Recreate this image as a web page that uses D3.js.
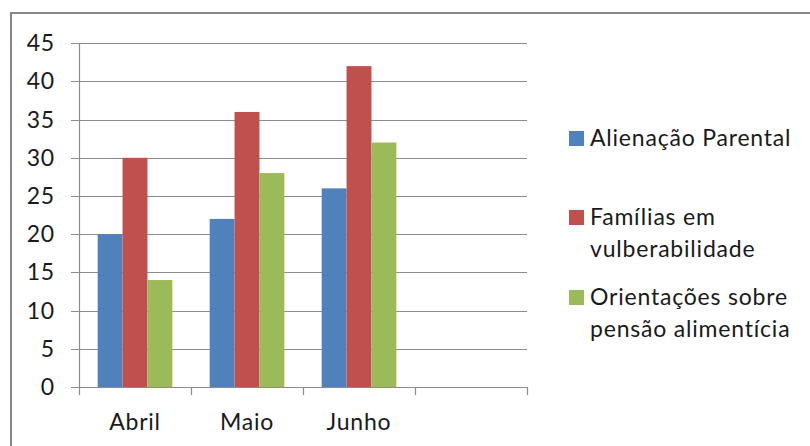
<!DOCTYPE html>
<html>
<head>
<meta charset="utf-8">
<script src="https://cdn.jsdelivr.net/npm/d3@7"></script>
<style>
  body { margin: 0; background: #fff; }
  text { font-family: Lato, "Open Sans", sans-serif; fill: #1a1a1a; letter-spacing: 0.8px; }
</style>
</head>
<body>
<div id="container"></div>
<script>
// data
let months = ["Abril", "Maio", "Junho", ""];
let seriesNames = ["Alienação Parental", "Famílias em vulberabilidade", "Orientações sobre pensão alimentícia"];
let legendLines = [["Alienação Parental"], ["Famílias em", "vulberabilidade"], ["Orientações sobre", "pensão alimentícia"]];
let alienacao = [20, 22, 26];
let familias = [30, 36, 42];
let orientacoes = [14, 28, 32];
let yTicks = [0, 5, 10, 15, 20, 25, 30, 35, 40, 45];
let colors = ["#4F81BD", "#C0504D", "#9BBB59"];

let w = 810;
let h = 446;
let plotLeft = 79, plotRight = 527, plotTop = 43.2, plotBottom = 387;

let viz = d3.select("#container")
  .append("svg")
    .attr("width", w)
    .attr("height", h);

// outer frame (cut off at right and bottom)
viz.append("rect")
  .attr("x", 11).attr("y", 13)
  .attr("width", 900).attr("height", 600)
  .attr("fill", "none")
  .attr("stroke", "#868686")
  .attr("stroke-width", 2);

let xScale = d3.scaleBand().domain(d3.range(months.length)).range([plotLeft, plotRight]);
let yScale = d3.scaleLinear().domain([0, 45]).range([plotBottom, plotTop]);
let inner = d3.scaleBand().domain(d3.range(3)).range([0, xScale.bandwidth()]).paddingOuter(0.75).paddingInner(0);

// gridlines
viz.append("g").selectAll("line").data(yTicks).enter().append("line")
  .attr("x1", plotLeft - 8).attr("x2", plotRight)
  .attr("y1", d => Math.round(yScale(d)) + 0.5)
  .attr("y2", d => Math.round(yScale(d)) + 0.5)
  .attr("stroke", "#8c8c8c")
  .attr("stroke-width", 1.2);

// y axis labels
viz.append("g").selectAll("text").data(yTicks).enter().append("text")
  .attr("x", 55)
  .attr("y", d => yScale(d) + 8)
  .attr("text-anchor", "end")
  .style("font-size", "23px")
  .text(d => d);

// bars
let seriesData = [alienacao, familias, orientacoes];
seriesData.forEach(function(values, s){
  viz.append("g").selectAll("rect").data(values).enter().append("rect")
    .attr("x", (d, i) => xScale(i) + inner(s))
    .attr("y", d => yScale(d))
    .attr("width", inner.bandwidth())
    .attr("height", d => yScale(0) - yScale(d))
    .attr("fill", colors[s]);
});

// y axis line
viz.append("line")
  .attr("x1", plotLeft + 0.5).attr("x2", plotLeft + 0.5)
  .attr("y1", plotTop).attr("y2", plotBottom + 8)
  .attr("stroke", "#8c8c8c").attr("stroke-width", 1.2);

// x axis line and ticks
viz.append("line")
  .attr("x1", plotLeft).attr("x2", plotRight)
  .attr("y1", plotBottom + 0.5).attr("y2", plotBottom + 0.5)
  .attr("stroke", "#8c8c8c").attr("stroke-width", 1.2);
let xTickPos = months.map((m, i) => xScale(i)).concat([plotRight]);
viz.append("g").selectAll("line").data(xTickPos.slice(1)).enter().append("line")
  .attr("x1", d => Math.round(d) + 0.5).attr("x2", d => Math.round(d) + 0.5)
  .attr("y1", plotBottom).attr("y2", plotBottom + 8)
  .attr("stroke", "#8c8c8c").attr("stroke-width", 1.2);

// category labels
viz.append("g").selectAll("text").data(months).enter().append("text")
  .attr("x", (d, i) => xScale(i) + xScale.bandwidth() / 2)
  .attr("y", 430)
  .attr("text-anchor", "middle")
  .style("font-size", "23px")
  .text(d => d);

// legend
let legendY = [131, 210, 290];
legendLines.forEach(function(lines, s){
  let g = viz.append("g").attr("transform", "translate(569," + legendY[s] + ")");
  g.append("rect")
    .attr("width", 15).attr("height", 15)
    .attr("fill", colors[s]);
  g.selectAll("text").data(lines).enter().append("text")
    .attr("x", 21)
    .attr("y", (d, i) => 15 + i * 31.5)
    .style("font-size", "23px")
    .text(d => d);
});
</script>
</body>
</html>
